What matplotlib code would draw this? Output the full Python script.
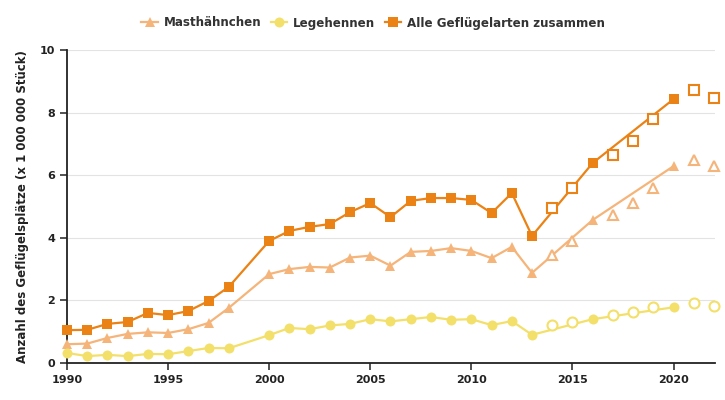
import matplotlib
matplotlib.use("Agg")
import matplotlib.pyplot as plt
import numpy as np

years = [1990, 1991, 1992, 1993, 1994, 1995, 1996, 1997, 1998, 2000, 2001, 2002, 2003,
         2004, 2005, 2006, 2007, 2008, 2009, 2010, 2011, 2012, 2013, 2014, 2015, 2016,
         2017, 2018, 2019, 2020, 2021, 2022]
# True = measured (filled marker, on line), False = estimate (hollow marker)
measured = [True] * 23 + [False, False, True, False, False, False, True, False, False]

masthaehnchen = [0.60, 0.62, 0.80, 0.93, 0.98, 0.96, 1.08, 1.28, 1.76, 2.84, 3.00, 3.07, 3.05,
                 3.37, 3.43, 3.11, 3.55, 3.58, 3.67, 3.58, 3.35, 3.71, 2.88, 3.45, 3.90, 4.57,
                 4.73, 5.11, 5.59, 6.29, 6.49, 6.29]
legehennen = [0.32, 0.22, 0.26, 0.22, 0.29, 0.28, 0.38, 0.48, 0.47, 0.89, 1.12, 1.08, 1.20,
              1.25, 1.40, 1.33, 1.40, 1.47, 1.38, 1.40, 1.21, 1.34, 0.90, 1.20, 1.31, 1.40,
              1.52, 1.63, 1.80, 1.78, 1.91, 1.82]
alle = [1.05, 1.06, 1.25, 1.31, 1.60, 1.53, 1.66, 1.98, 2.43, 3.90, 4.22, 4.35, 4.44,
        4.82, 5.11, 4.66, 5.18, 5.27, 5.27, 5.21, 4.79, 5.43, 4.06, 4.95, 5.59, 6.39,
        6.65, 7.09, 7.80, 8.43, 8.72, 8.47]

series = [
    ("Masthähnchen", masthaehnchen, "#f5b479", "^"),
    ("Legehennen", legehennen, "#f3e06a", "o"),
    ("Alle Geflügelarten zusammen", alle, "#eb8215", "s"),
]

fig = plt.figure(figsize=(7.25, 4.0), dpi=100)
ax = fig.add_axes([67/725, 1-363/400, (715-67)/725, (363-50)/400])

yrs = np.array(years)
mask = np.array(measured)
for name, vals, color, mk in series:
    v = np.array(vals)
    ms = 7.2 if mk != "s" else 7
    ax.plot(yrs[mask], v[mask], color=color, lw=1.6, marker=mk, ms=ms,
            markeredgewidth=0, label=name, clip_on=False, zorder=3)
    ax.plot(yrs[~mask], v[~mask], ls="none", marker=mk, ms=ms,
            markerfacecolor="white", markeredgecolor=color, markeredgewidth=1.5,
            clip_on=False, zorder=3)

ax.set_xlim(1990, 2022.05)
ax.set_ylim(0, 10)
ax.set_xticks([1990, 1995, 2000, 2005, 2010, 2015, 2020])
ax.set_yticks([0, 2, 4, 6, 8, 10])
ax.grid(axis="y", color="#e3e3e3", lw=0.8)
ax.set_axisbelow(True)
for s in ["top", "right"]:
    ax.spines[s].set_visible(False)
for s in ["left", "bottom"]:
    ax.spines[s].set_color("#222222")
    ax.spines[s].set_linewidth(1.3)
ax.tick_params(axis="both", direction="out", length=5, width=1.1, color="#222222",
               labelsize=8, labelcolor="#222222")
for lab in ax.get_xticklabels() + ax.get_yticklabels():
    lab.set_fontweight("bold")
ax.set_ylabel("Anzahl des Geflügelsplätze (x 1 000 000 Stück)", fontsize=8.5,
              fontweight="bold", color="#222222", labelpad=8)

leg = fig.legend(*ax.get_legend_handles_labels(), loc="center",
                 bbox_to_anchor=(373/725, 1-23/400), ncol=3, frameon=False,
                 prop={"weight": "bold", "size": 8.6}, handlelength=1.4, columnspacing=0.8,
                 handletextpad=0.45, borderpad=0)
for t in leg.get_texts():
    t.set_color("#333333")

fig.savefig("out.png", dpi=100)
